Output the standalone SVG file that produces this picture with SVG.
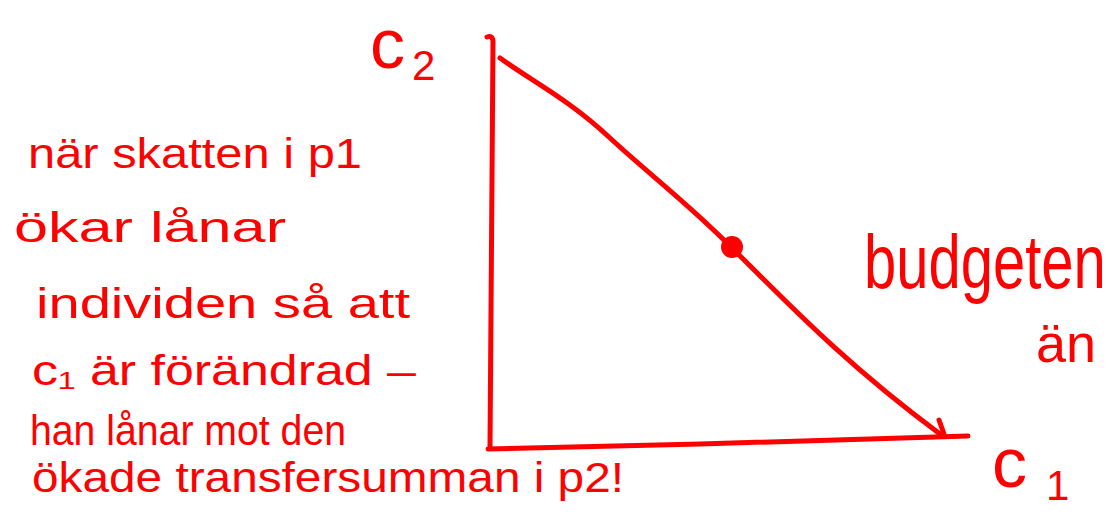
<svg xmlns="http://www.w3.org/2000/svg" width="1116" height="514" viewBox="0 0 1116 514">
<style>
.ink{fill:none;stroke:#ff0000;stroke-width:5;stroke-linecap:round;stroke-linejoin:round}
.t{fill:#ff0000;font-family:"Liberation Sans","DejaVu Sans",sans-serif}
.note{font-size:42px}
</style>
<rect width="1116" height="514" fill="#ffffff"/>
<g id="connectors">
<path id="axis-c2" class="ink" d="M487,37 Q493,35 493,42 L490,448"/>
<path id="axis-c1" class="ink" d="M488,449 L700,444 L968,436"/>
<path id="budget-line" class="ink" d="M500,58 C530,80 570,100 610,138 C650,175 690,205 732,248 C780,295 840,360 940,434"/>
<path id="budget-tip" class="ink" d="M939,420 L944,434"/>
</g>
<g id="point">
<circle cx="732" cy="247" r="11" fill="#ff0000"/>
</g>
<g id="label-c2">
<text class="t" x="370" y="68" font-size="70">c</text>
<text class="t" x="412" y="80" font-size="42">2</text>
</g>
<g id="label-c1">
<text class="t" x="992" y="487" font-size="70">c</text>
<text class="t" x="1046" y="500" font-size="42">1</text>
</g>
<g id="label-budget">
<text class="t" transform="translate(864,288) scale(1,1.3)" font-size="58">budgeten</text>
<text class="t" x="1036" y="362" font-size="54">än</text>
</g>
<g id="note">
<text class="t note" x="28" y="168" textLength="334" lengthAdjust="spacingAndGlyphs">när skatten i p1</text>
<text class="t note" x="14" y="242" textLength="272" lengthAdjust="spacingAndGlyphs">ökar lånar</text>
<text class="t note" x="36" y="318" textLength="374" lengthAdjust="spacingAndGlyphs">individen så att</text>
<text class="t note" x="32" y="385" textLength="384" lengthAdjust="spacingAndGlyphs">c₁ är förändrad –</text>
<text class="t note" x="30" y="445" textLength="316" lengthAdjust="spacingAndGlyphs">han lånar mot den</text>
<text class="t note" x="32" y="492" textLength="592" lengthAdjust="spacingAndGlyphs">ökade transfersumman i p2!</text>
</g>
</svg>
